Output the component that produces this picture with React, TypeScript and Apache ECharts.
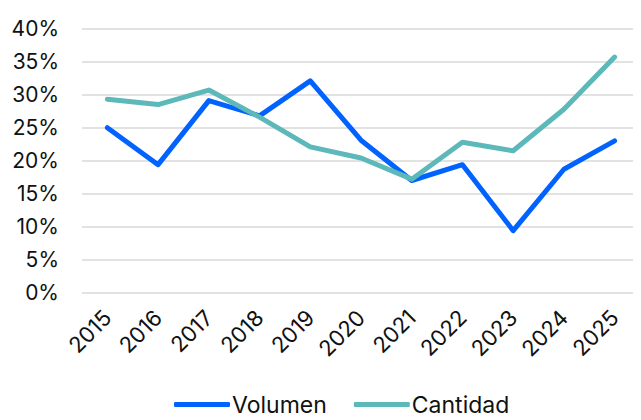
import React, { useEffect, useRef } from "react";
import * as echarts from "echarts";

const years = ["2015", "2016", "2017", "2018", "2019", "2020", "2021", "2022", "2023", "2024", "2025"];
const volumen = [25.0, 19.4, 29.1, 26.8, 32.1, 23.1, 17.0, 19.4, 9.4, 18.7, 23.0];
const cantidad = [29.3, 28.5, 30.7, 26.6, 22.1, 20.4, 17.2, 22.8, 21.5, 27.8, 35.7];
const yTicks = [0, 5, 10, 15, 20, 25, 30, 35, 40];

const FONT = "Inter, Roboto, sans-serif";

export default function App() {
  const ref = useRef<HTMLDivElement>(null);
  useEffect(() => {
    if (!ref.current) return;
    const chart = echarts.init(ref.current, null, { renderer: "svg" });
    chart.setOption({
      animation: false,
      grid: { left: 82, right: 1, top: 28.7, bottom: 127.3, containLabel: false },
      legend: {
        bottom: -1,
        left: 169,
        itemWidth: 56,
        itemHeight: 5,
        itemGap: 27,
        icon: "roundRect",
        textStyle: { fontFamily: FONT, fontSize: 23, color: "#111", padding: [0, 0, 0, -3] },
        data: ["Volumen", "Cantidad"],
      },
      xAxis: {
        type: "category",
        data: years,
        boundaryGap: true,
        axisLine: { show: false },
        axisTick: { show: false },
        axisLabel: {
          rotate: 45,
          interval: 0,
          margin: 21,
          fontFamily: FONT,
          fontSize: 22,
          color: "#111",
        },
      },
      yAxis: {
        type: "value",
        min: yTicks[0],
        max: yTicks[yTicks.length - 1],
        interval: 5,
        axisLine: { show: false },
        axisTick: { show: false },
        splitLine: { lineStyle: { color: "#d9d9d9", width: 1.5 } },
        axisLabel: {
          margin: 23,
          fontFamily: FONT,
          fontSize: 21,
          color: "#111",
          formatter: (v: number) => `${v}%`,
        },
      },
      series: [
        {
          name: "Volumen",
          type: "line",
          data: volumen,
          symbol: "none",
          lineStyle: { color: "#0062FF", width: 5, cap: "round", join: "round" },
          itemStyle: { color: "#0062FF" },
          z: 2,
        },
        {
          name: "Cantidad",
          type: "line",
          data: cantidad,
          symbol: "none",
          lineStyle: { color: "#5DB8BA", width: 5, cap: "round", join: "round" },
          itemStyle: { color: "#5DB8BA" },
          z: 3,
        },
      ],
    });
    return () => chart.dispose();
  }, []);
  return <div ref={ref} style={{ width: 641, height: 420, margin: "-8px 0 0 -8px" }} />;
}
